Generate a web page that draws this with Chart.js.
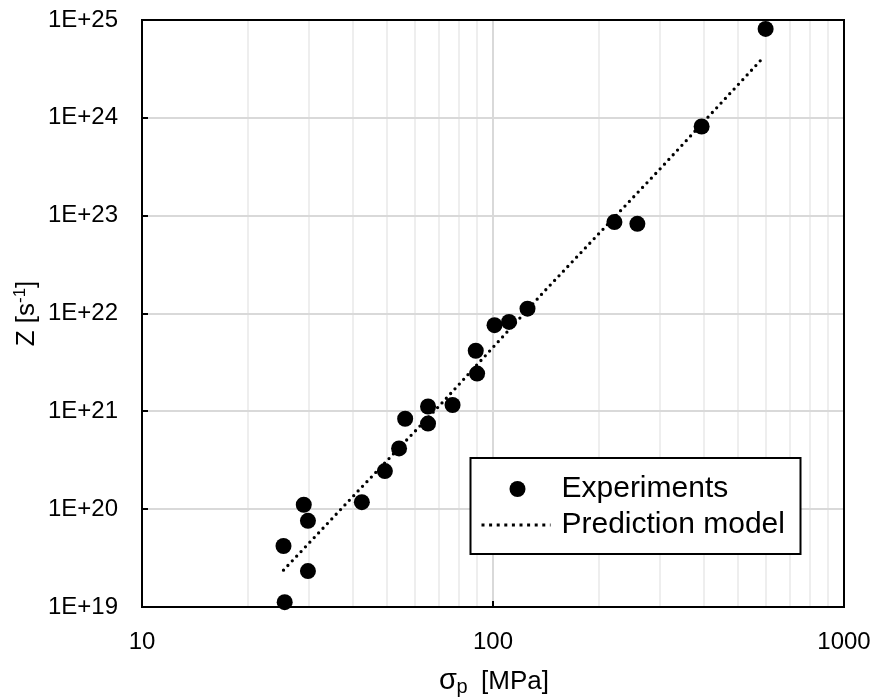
<!DOCTYPE html>
<html>
<head>
<meta charset="utf-8">
<script src="https://cdn.jsdelivr.net/npm/chart.js@4/dist/chart.umd.min.js"></script>
<style>
html,body{margin:0;padding:0;background:#fff;}
canvas{display:block;}
</style>
</head>
<body>
<canvas id="c" width="878" height="700"></canvas>
<script>
// ---- data ----
const seriesLabels = ['Experiments', 'Prediction model'];

const expStress = [25.5, 25.3, 28.9, 29.7, 29.7, 42.3, 49.2, 54.0, 56.2, 65.3, 65.3, 76.7, 90.1, 89.3, 101.0, 111.1, 125.4, 221.8, 257.8, 393, 598];
const expZ      = [1.12e19, 4.2e19, 1.11e20, 7.6e19, 2.33e19, 1.18e20, 2.45e20, 4.18e20, 8.4e20, 7.5e20, 1.12e21, 1.16e21, 2.43e21, 4.16e21, 7.6e21, 8.2e21, 1.12e22, 8.6e22, 8.26e22, 8.15e23, 8.1e24];

const modelStress = [25.3, 41.8, 71.9, 141, 298, 585];
const modelZ      = [2.38e19, 1.61e20, 1.24e21, 1.73e22, 2.96e23, 4.03e24];

const xTickValues = [10, 100, 1000];
const xTickLabels = ['10', '100', '1000'];
const xMinorGrid  = [20, 30, 40, 50, 60, 70, 80, 90, 200, 300, 400, 500, 600, 700, 800, 900];

const yTickValues = [1e19, 1e20, 1e21, 1e22, 1e23, 1e24, 1e25];
const yTickLabels = ['1E+19', '1E+20', '1E+21', '1E+22', '1E+23', '1E+24', '1E+25'];

// ---- drawing ----
const FONT = "'Liberation Sans', Arial, sans-serif";

const decor = {
  id: 'decor',
  beforeDatasetsDraw(chart) {
    const {ctx, chartArea: a, scales: {x, y}} = chart;
    ctx.save();
    ctx.strokeStyle = '#000';
    ctx.lineWidth = 2;
    ctx.strokeRect(a.left, a.top, a.right - a.left, a.bottom - a.top);
    ctx.beginPath();
    yTickValues.forEach(v => {
      const py = Math.round(y.getPixelForValue(v));
      ctx.moveTo(a.left, py); ctx.lineTo(a.left + 6, py);
    });
    xTickValues.forEach(v => {
      const px = Math.round(x.getPixelForValue(v));
      ctx.moveTo(px, a.bottom); ctx.lineTo(px, a.bottom - 6);
    });
    ctx.stroke();
    ctx.restore();
  },
  afterDraw(chart) {
    const {ctx, chartArea: a} = chart;
    ctx.save();
    // legend box
    const L = {x: a.right - 373.5, y: a.bottom - 149, w: 330, h: 96};
    ctx.fillStyle = '#fff';
    ctx.fillRect(L.x, L.y, L.w, L.h);
    ctx.strokeStyle = '#000';
    ctx.lineWidth = 2;
    ctx.strokeRect(L.x, L.y, L.w, L.h);
    ctx.fillStyle = '#000';
    ctx.beginPath();
    ctx.arc(L.x + 47, L.y + 31, 8, 0, Math.PI * 2);
    ctx.fill();
    ctx.font = '30px ' + FONT;
    ctx.textAlign = 'left';
    ctx.textBaseline = 'alphabetic';
    ctx.fillText(seriesLabels[0], L.x + 91, L.y + 39.4);
    ctx.setLineDash([3, 4.6]);
    ctx.lineWidth = 3;
    ctx.beginPath();
    ctx.moveTo(L.x + 11, L.y + 67);
    ctx.lineTo(L.x + 80, L.y + 67);
    ctx.stroke();
    ctx.setLineDash([]);
    ctx.fillText(seriesLabels[1], L.x + 91, L.y + 75.4);

    // x axis title: sigma_p [MPa]
    const cx = (a.left + a.right) / 2;
    const base = a.bottom + 82;
    ctx.font = '29px ' + FONT;
    ctx.fillText('σ', cx - 54, base);
    ctx.font = '20px ' + FONT;
    ctx.fillText('p', cx - 36.5, base + 4);
    ctx.font = '26px ' + FONT;
    ctx.fillText('[MPa]', cx - 12, base);

    // y axis title: Z [s^-1]
    const cy = (a.top + a.bottom) / 2;
    ctx.translate(33.5, cy);
    ctx.rotate(-Math.PI / 2);
    ctx.font = '26px ' + FONT;
    const w1 = ctx.measureText('Z [s').width;
    const w3 = ctx.measureText(']').width;
    ctx.font = '17px ' + FONT;
    const w2 = ctx.measureText('-1').width;
    let sx = -(w1 + w2 + w3) / 2;
    ctx.font = '26px ' + FONT;
    ctx.fillText('Z [s', sx, 0);
    sx += w1;
    ctx.font = '17px ' + FONT;
    ctx.fillText('-1', sx, -9);
    sx += w2;
    ctx.font = '26px ' + FONT;
    ctx.fillText(']', sx, 0);
    ctx.restore();
  }
};

new Chart(document.getElementById('c'), {
  data: {
    datasets: [
      {
        type: 'scatter',
        label: seriesLabels[0],
        data: expStress.map((s, i) => ({x: s, y: expZ[i]})),
        backgroundColor: '#000',
        borderWidth: 0,
        pointRadius: 8,
        pointHoverRadius: 8,
        clip: false,
        order: 1
      },
      {
        type: 'line',
        label: seriesLabels[1],
        data: modelStress.map((s, i) => ({x: s, y: modelZ[i]})),
        borderColor: '#000',
        borderWidth: 3.3,
        borderDash: [0, 6.4],
        borderCapStyle: 'round',
        pointRadius: 0,
        tension: 0,
        fill: false,
        clip: false,
        order: 2
      }
    ]
  },
  options: {
    responsive: false,
    devicePixelRatio: 1,
    animation: false,
    events: [],
    layout: {padding: {top: 20, right: 34, left: 0, bottom: 0}},
    plugins: {legend: {display: false}, tooltip: {enabled: false}},
    scales: {
      x: {
        type: 'logarithmic',
        min: 10,
        max: 1000,
        afterBuildTicks: s => {
          s.ticks = xTickValues.concat(xMinorGrid).sort((p, q) => p - q).map(v => ({value: v}));
        },
        afterFit: s => { s.height = 93; s.paddingLeft = 0; s.paddingRight = 0; },
        border: {display: false},
        grid: {
          color: c => (c.tick && xTickValues.includes(c.tick.value)) ? '#d9d9d9' : '#eeeeee',
          lineWidth: 2,
          drawTicks: false
        },
        ticks: {
          autoSkip: false,
          maxRotation: 0,
          padding: 21,
          color: '#000',
          font: {family: FONT, size: 24},
          callback: v => {
            const i = xTickValues.indexOf(v);
            return i >= 0 ? xTickLabels[i] : '';
          }
        }
      },
      y: {
        type: 'logarithmic',
        min: 1e19,
        max: 1e25,
        afterBuildTicks: s => { s.ticks = yTickValues.map(v => ({value: v})); },
        afterFit: s => { s.width = 142; s.paddingTop = 0; s.paddingBottom = 0; },
        border: {display: false},
        grid: {color: '#d9d9d9', lineWidth: 2, drawTicks: false},
        ticks: {
          padding: 24,
          color: '#000',
          font: {family: FONT, size: 24},
          callback: v => {
            const i = yTickValues.indexOf(v);
            return i >= 0 ? yTickLabels[i] : '';
          }
        }
      }
    }
  },
  plugins: [decor]
});
</script>
</body>
</html>
